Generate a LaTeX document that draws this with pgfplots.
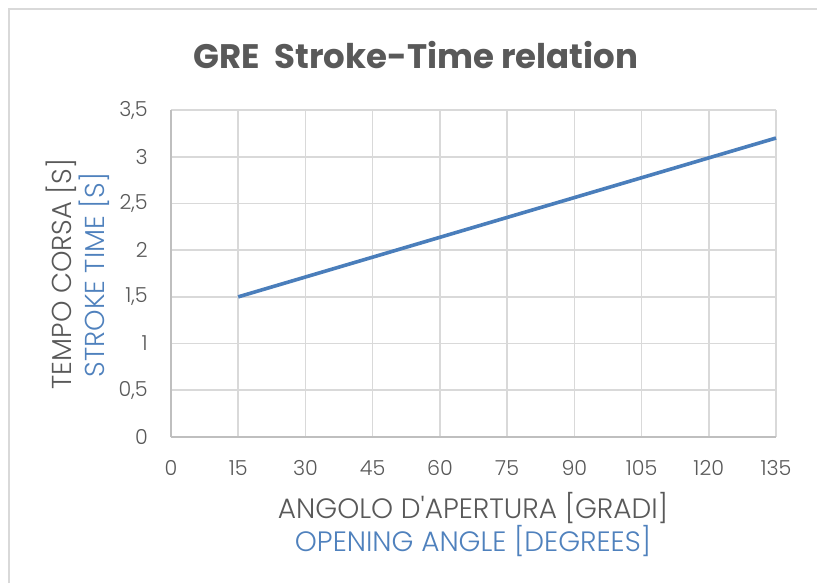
\documentclass[border=0pt]{standalone}
\usepackage{fontspec}
\setmainfont{Poppins}[UprightFont=* Light, BoldFont=* Bold, Ligatures=TeXOff]
\usepackage{pgfplots}
\pgfplotsset{compat=1.18}
\definecolor{txt}{HTML}{595959}
\definecolor{blu}{HTML}{4F81BD}
\definecolor{linec}{HTML}{4A7EBB}
\definecolor{gridc}{HTML}{D9D9D9}
\definecolor{axl}{HTML}{BFBFBF}
\definecolor{framec}{HTML}{D9D9D9}
\begin{document}
\begin{tikzpicture}[x=0.75pt,y=0.75pt]
\useasboundingbox (0,0) rectangle (817,583);
\fill[white] (0,0) rectangle (817,583);
\draw[framec, line width=1.5pt] (8.5,0) -- (8.5,573.5) -- (817,573.5);
\begin{axis}[
  at={(128.25pt,109.5pt)}, anchor=south west,
  scale only axis, width=453.75pt, height=245.25pt,
  xmin=0, xmax=135, ymin=0, ymax=3.5,
  xtick={0,15,...,135}, ytick={0,0.5,...,3.5},
  axis lines=left, axis line style={-, axl, line width=1.2pt},
  major tick length=0pt,
  grid=major, major grid style={gridc, line width=1.2pt},
  /pgf/number format/assume math mode=true,
  /pgf/number format/use comma,
  tick label style={font=\fontsize{15.5}{18}\selectfont, text=txt, inner sep=0pt},
  yticklabel style={anchor=east, xshift=-17.25pt},
  xticklabel style={anchor=north, yshift=-17.25pt},
  clip=false,
]
\addplot[linec, line width=2.7pt] coordinates {
 (15,1.5) (30,1.7125) (45,1.925) (60,2.1375) (75,2.35) (90,2.5625) (105,2.775) (120,2.9875) (135,3.2)
};
\end{axis}
\node[text=txt, font=\bfseries\fontsize{25.5}{30}\selectfont] at (416,528) {GRE\ \ Stroke-Time relation};
\node[text=txt, rotate=90, font=\fontsize{20.5}{22}\selectfont] at (61,309) {TEMPO CORSA [S]};
\node[text=blu, rotate=90, font=\fontsize{20.5}{22}\selectfont] at (94,308) {STROKE TIME [S]};
\node[text=txt, font=\fontsize{21}{22}\selectfont] at (473,75) {ANGOLO D'APERTURA [GRADI]};
\node[text=blu, font=\fontsize{21}{22}\selectfont] at (473,42) {OPENING ANGLE [DEGREES]};
\end{tikzpicture}
\end{document}
